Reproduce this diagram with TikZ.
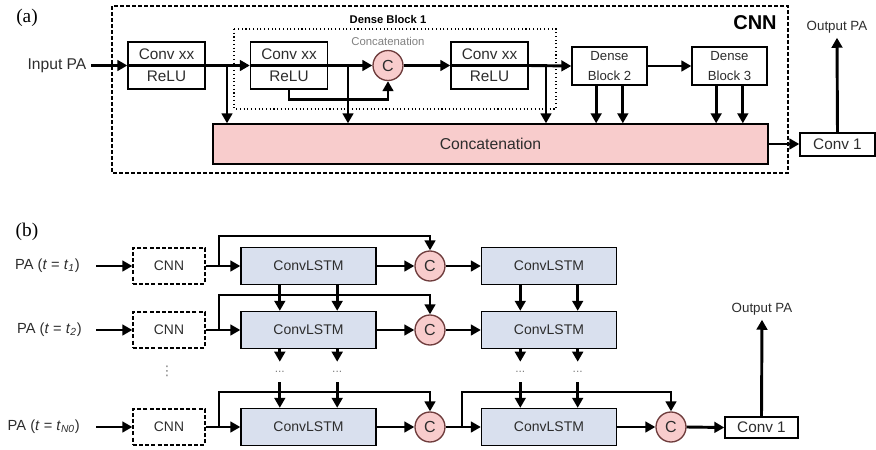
\documentclass[tikz,border=0pt]{standalone}
\usepackage{fontspec}
\setmainfont{Liberation Sans}
\newfontfamily\tagfont{Liberation Serif}
\newfontfamily\symfont{DejaVu Sans}
\usetikzlibrary{arrows.meta}

\definecolor{catpink}{RGB}{248,204,204}
\definecolor{lstmblue}{RGB}{217,224,238}
\definecolor{txtgray}{RGB}{45,45,45}
\definecolor{ringred}{RGB}{110,60,60}

\tikzset{
  sig/.style={line width=2.2pt},
  arr/.style={sig,-{Triangle[length=7.5pt,width=8pt]}},
  blk/.style={draw,line width=1pt,inner sep=0pt,align=center,text=txtgray},
  convbox/.style={blk,minimum width=57.75pt,minimum height=35.25pt,font=\fontsize{11.5}{16.5}\selectfont},
  dbbox/.style={blk,minimum width=56.25pt,minimum height=28.5pt,font=\fontsize{9.9}{15}\selectfont},
  catbox/.style={blk,fill=catpink,minimum width=416.25pt,minimum height=30pt,font=\fontsize{11.8}{14}\selectfont},
  catnode/.style={circle,draw=ringred,line width=1pt,fill=catpink,inner sep=0pt,minimum size=22.5pt,text=txtgray,font=\fontsize{12}{14}\selectfont},
  cnnbox/.style={blk,dashed,dash pattern=on 3pt off 1.6pt,minimum width=54pt,minimum height=27pt,font=\fontsize{10.4}{12}\selectfont},
  lstmbox/.style={blk,fill=lstmblue,minimum width=101.25pt,minimum height=27.75pt,font=\fontsize{10.5}{12}\selectfont},
  tag/.style={font=\tagfont\fontsize{14.5}{16}\selectfont},
  lbl/.style={text=txtgray,font=\fontsize{11.7}{14}\selectfont},
  palbl/.style={anchor=east,inner sep=0pt,text=txtgray,font=\fontsize{11}{13}\selectfont},
  outlbl/.style={text=txtgray,font=\fontsize{10}{12}\selectfont},
  dotsnode/.style={inner sep=0pt,minimum height=15pt,text=gray,font=\fontsize{9}{10}\selectfont}
}

\begin{document}
\begin{tikzpicture}[x=0.75pt,y=-0.75pt]
    \useasboundingbox (0,0) rectangle (876,450);

    % (a) CNN
    \node[tag] (tagA) at (27,18) {(a)};
    \draw[line width=1pt,dash pattern=on 3pt off 1.5pt] (112,6) rectangle (788,173);
    \draw[line width=0.8pt,dotted] (234,29) rectangle (556,109);
    \node[font=\bfseries\fontsize{15}{18}\selectfont] (cnnTitle) at (755,23) {CNN};
    \node[font=\bfseries\fontsize{8.4}{10}\selectfont] (dbTitle) at (388,19) {Dense Block 1};
    \node[text=gray,font=\fontsize{8.5}{10}\selectfont] (dbCat) at (388,41) {Concatenation};

    \node[lbl] (inA) at (57,65.5) {Input PA};
    \node[convbox] (c1) at (166.5,65.5) {Conv xx\\ReLU};
    \node[convbox] (c2) at (289,65.5) {Conv xx\\ReLU};
    \node[catnode] (cat1) at (388,65.5) {C};
    \node[convbox] (c3) at (489.5,65.5) {Conv xx\\ReLU};
    \node[dbbox] (db2) at (609.5,66) {Dense\\Block 2};
    \node[dbbox] (db3) at (729.5,66) {Dense\\Block 3};
    \node[catbox] (concat) at (490.5,144) {Concatenation};
    \node[blk,minimum width=56.25pt,minimum height=17.25pt,font=\fontsize{11.5}{13}\selectfont] (conv1a) at (837.5,144.5) {Conv 1};
    \node[outlbl] (outA) at (837,27) {Output PA};

    \coordinate (b1) at (227,65.5);
    \coordinate (b2) at (348,65.5);
    \coordinate (b3) at (546,65.5);

    \draw[arr] (inA.east) -- (c1.west);
    \draw[sig] (c1.west) -- (c1.east);
    \draw[arr] (c1.east) -- (c2.west);
    \draw[arr] (b1) -- (b1 |- concat.north);
    \draw[sig] (c2.west) -- (c2.east);
    \draw[arr] (c2.east) -- (cat1.west);
    \draw[arr] (b2) -- (b2 |- concat.north);
    \draw[arr] (c2.south) -- ++(0,10) -| (cat1.south);
    \draw[arr] (cat1.east) -- (c3.west);
    \draw[sig] (c3.west) -- (c3.east);
    \draw[arr] (c3.east) -- (db2.west);
    \draw[arr] (b3) -- (b3 |- concat.north);
    \draw[arr] (db2.east) -- (db3.west);
    \draw[arr] ([xshift=-10pt]db2.south) -- ([xshift=-10pt]db2.south |- concat.north);
    \draw[arr] ([xshift=10pt]db2.south) -- ([xshift=10pt]db2.south |- concat.north);
    \draw[arr] ([xshift=-10pt]db3.south) -- ([xshift=-10pt]db3.south |- concat.north);
    \draw[arr] ([xshift=10pt]db3.south) -- ([xshift=10pt]db3.south |- concat.north);
    \draw[arr] (concat.east) -- (concat.east -| conv1a.west);
    \draw[arr] (conv1a.north) -- (outA.south);

    % (b) CNN + ConvLSTM
    \node[tag] (tagB) at (27,232) {(b)};

    \node[palbl] (pa1) at (80,266) {PA (\textit{t} = \textit{t}\textsubscript{\textit{1}})};
    \node[palbl] (pa2) at (82,330) {PA (\textit{t} = \textit{t}\textsubscript{\textit{2}})};
    \node[palbl] (pa3) at (80,427) {PA (\textit{t} = \textit{t}\textsubscript{\textit{N0}})};

    \node[cnnbox] (cnn1) at (169,266) {CNN};
    \node[cnnbox] (cnn2) at (169,330) {CNN};
    \node[cnnbox] (cnn3) at (169,427) {CNN};
    \node[text=gray,inner sep=0pt,font=\symfont\fontsize{10}{12}\selectfont] (vd) at (167,371) {⋮};

    \node[lstmbox] (lstm11) at (308.5,266) {ConvLSTM};
    \node[lstmbox] (lstm21) at (308.5,330) {ConvLSTM};
    \node[lstmbox] (lstm31) at (308.5,427) {ConvLSTM};
    \node[catnode] (cat11) at (430,266) {C};
    \node[catnode] (cat21) at (430,330) {C};
    \node[catnode] (cat31) at (430,427) {C};
    \node[lstmbox] (lstm12) at (549,266) {ConvLSTM};
    \node[lstmbox] (lstm22) at (549,330) {ConvLSTM};
    \node[lstmbox] (lstm32) at (549,427) {ConvLSTM};
    \node[catnode] (cat32) at (671,427) {C};
    \node[blk,minimum width=54.75pt,minimum height=15.75pt,font=\fontsize{11.5}{13}\selectfont] (conv1b) at (761.5,427.5) {Conv 1};
    \node[outlbl] (outB) at (762,309) {Output PA};

    \node[dotsnode] (d1) at (279.8,372) {...};
    \node[dotsnode] (d2) at (337.2,372) {...};
    \node[dotsnode] (d3) at (520.3,372) {...};
    \node[dotsnode] (d4) at (577.7,372) {...};

    \coordinate (br1) at (219,266);
    \coordinate (br2) at (219,330);
    \coordinate (br3) at (219,427);
    \coordinate (br4) at (462,427);

    % rows
    \draw[arr] ([xshift=-27pt]cnn1.west) -- (cnn1.west);
    \draw[arr] ([xshift=-27pt]cnn2.west) -- (cnn2.west);
    \draw[arr] ([xshift=-27pt]cnn3.west) -- (cnn3.west);
    \draw[arr] (cnn1.east) -- (lstm11.west);
    \draw[arr] (cnn2.east) -- (lstm21.west);
    \draw[arr] (cnn3.east) -- (lstm31.west);
    \draw[arr] (br1) -- ++(0,-30) -| (cat11.north);
    \draw[arr] (br2) -- ++(0,-35) -| (cat21.north);
    \draw[arr] (br3) -- ++(0,-35) -| (cat31.north);
    \draw[arr] (lstm11.east) -- (cat11.west);
    \draw[arr] (lstm21.east) -- (cat21.west);
    \draw[arr] (lstm31.east) -- (cat31.west);
    \draw[arr] (cat11.east) -- (lstm12.west);
    \draw[arr] (cat21.east) -- (lstm22.west);
    \draw[arr] (cat31.east) -- (lstm32.west);
    \draw[arr] (br4) -- ++(0,-35) -| (cat32.north);
    \draw[arr] (lstm32.east) -- (cat32.west);
    \draw[arr] (cat32.east) -- (conv1b.west);
    \draw[arr] (conv1b.north) -- (outB.south);

    % columns
    \draw[arr] (d1 |- lstm11.south) -- (d1 |- lstm21.north);
    \draw[arr] (d2 |- lstm11.south) -- (d2 |- lstm21.north);
    \draw[arr] (d3 |- lstm12.south) -- (d3 |- lstm22.north);
    \draw[arr] (d4 |- lstm12.south) -- (d4 |- lstm22.north);
    \draw[arr] (d1 |- lstm21.south) -- (d1.north);
    \draw[arr] (d2 |- lstm21.south) -- (d2.north);
    \draw[arr] (d3 |- lstm22.south) -- (d3.north);
    \draw[arr] (d4 |- lstm22.south) -- (d4.north);
    \draw[arr] (d1.south) -- (d1 |- lstm31.north);
    \draw[arr] (d2.south) -- (d2 |- lstm31.north);
    \draw[arr] (d3.south) -- (d3 |- lstm32.north);
    \draw[arr] (d4.south) -- (d4 |- lstm32.north);
\end{tikzpicture}
\end{document}
